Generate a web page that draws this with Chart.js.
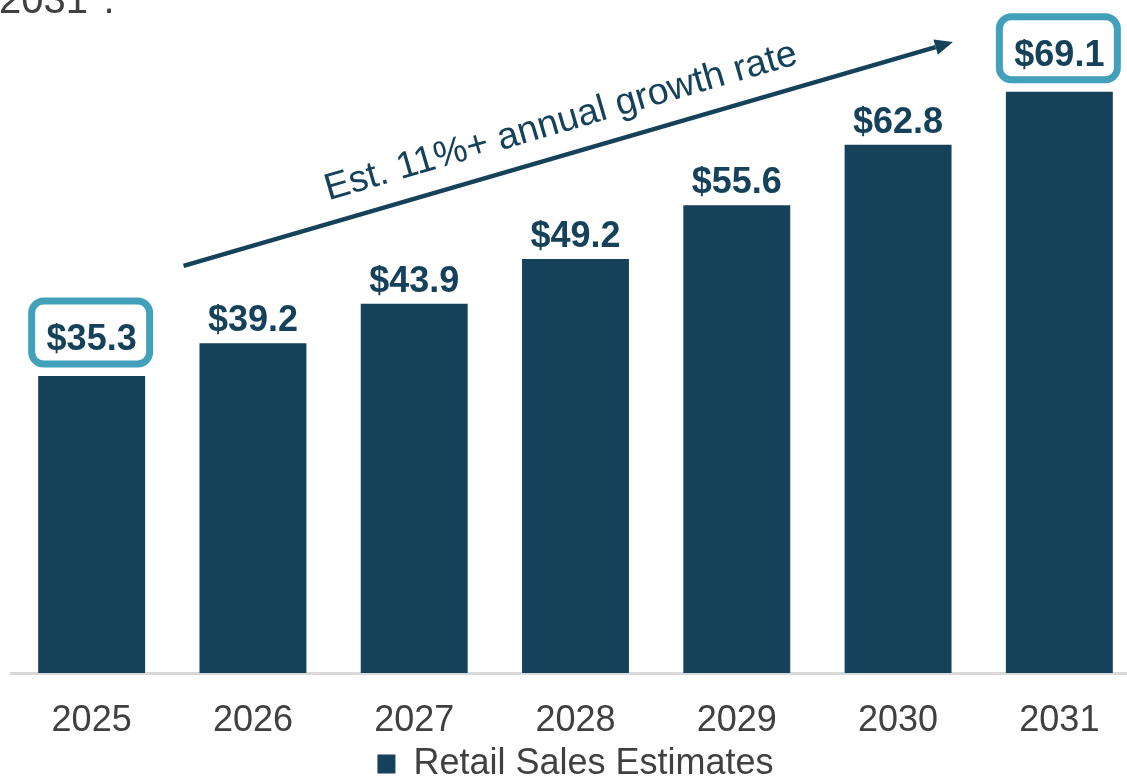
<!DOCTYPE html>
<html>
<head>
<meta charset="utf-8">
<title>Retail Sales Estimates</title>
<script src="https://cdn.jsdelivr.net/npm/chart.js@4/dist/chart.umd.min.js"></script>
<style>
  html, body { margin: 0; padding: 0; background: #fff; overflow: hidden; }
  #wrap { position: absolute; left: 0; top: 0; width: 1151px; height: 800px; }
</style>
</head>
<body>
<div id="wrap"><canvas id="myChart" width="1151" height="800"></canvas></div>
<script>
// values
const years = ['2025', '2026', '2027', '2028', '2029', '2030', '2031'];
const retailSales = [35.3, 39.2, 43.9, 49.2, 55.6, 62.8, 69.1];
const boxedYears = ['2025', '2031'];
const seriesName = 'Retail Sales Estimates';
const growthNote = 'Est. 11%+ annual growth rate';
const introTail = '2031*.';

const navy = '#15425A';
const teal = '#42A0BB';
const grey = '#404040';
const font = 'Arial, "Liberation Sans", sans-serif';

// value labels, boxes round first/last, growth arrow
const overlay = {
    id: 'overlay',
    afterDatasetsDraw(chart) {
        const ctx = chart.ctx;
        const meta = chart.getDatasetMeta(0);
        const x = chart.scales.x, y = chart.scales.y;
        ctx.save();

        // value over each bar
        ctx.font = 'bold 36px ' + font;
        ctx.fillStyle = navy;
        ctx.textAlign = 'center';
        ctx.textBaseline = 'alphabetic';
        meta.data.forEach(function (bar, i) {
            const boxed = boxedYears.indexOf(years[i]) >= 0;
            const base = bar.y - (boxed ? 26 : 12);
            ctx.fillText('$' + retailSales[i].toFixed(1), bar.x, base);
            if (boxed) {
                ctx.strokeStyle = teal;
                ctx.lineWidth = 7;
                ctx.beginPath();
                ctx.roundRect(bar.x - 60, base - 49, 118, 63, 12);
                ctx.stroke();
            }
        });

        // trend arrow
        const x0 = x.getPixelForValue(0.57), y0 = y.getPixelForValue(48.4);
        const x1 = x.getPixelForValue(5.34), y1 = y.getPixelForValue(75.0);
        const ang = Math.atan2(y1 - y0, x1 - x0);
        const head = 18, half = 8;
        const bx = x1 - head * Math.cos(ang), by = y1 - head * Math.sin(ang);
        ctx.strokeStyle = navy;
        ctx.fillStyle = navy;
        ctx.lineWidth = 4.5;
        ctx.beginPath();
        ctx.moveTo(x0, y0);
        ctx.lineTo(bx, by);
        ctx.stroke();
        ctx.beginPath();
        ctx.moveTo(x1, y1);
        ctx.lineTo(bx + half * Math.sin(ang), by - half * Math.cos(ang));
        ctx.lineTo(bx - half * Math.sin(ang), by + half * Math.cos(ang));
        ctx.closePath();
        ctx.fill();

        // note along the arrow
        const mx = (x0 + x1) / 2 + 23 * Math.sin(ang) + 2;
        const my = (y0 + y1) / 2 - 23 * Math.cos(ang);
        ctx.translate(mx, my);
        ctx.rotate(ang);
        ctx.font = '37.5px ' + font;
        ctx.textAlign = 'center';
        ctx.textBaseline = 'alphabetic';
        ctx.fillText(growthNote, 0, 0);
        ctx.restore();

        // tail of the paragraph above the chart
        ctx.save();
        ctx.font = '40px ' + font;
        ctx.fillStyle = grey;
        ctx.textAlign = 'left';
        ctx.textBaseline = 'alphabetic';
        ctx.fillText(introTail, -1, 13);
        ctx.restore();
    }
};

const data = {
    labels: years,
    datasets: [{
        label: seriesName,
        data: retailSales,
        backgroundColor: navy,
        borderWidth: 0,
        barPercentage: 0.663,
        categoryPercentage: 1
    }]
};

const config = {
    type: 'bar',
    data: data,
    options: {
        responsive: false,
        animation: false,
        layout: { padding: { left: 11, right: 11, top: 0, bottom: 8 } },
        scales: {
            x: {
                grid: { display: false, drawTicks: false },
                border: { display: true, color: '#D9D9D9', width: 3 },
                ticks: { color: grey, font: { size: 36, family: font }, padding: 26, maxRotation: 0, autoSkip: false },
                afterFit: function (scale) { scale.height = 63; }
            },
            y: {
                display: false,
                min: 0,
                max: 80
            }
        },
        plugins: {
            legend: {
                position: 'bottom',
                labels: {
                    color: grey,
                    font: { size: 36, family: font },
                    boxWidth: 18,
                    boxHeight: 19,
                    padding: 10
                }
            },
            tooltip: { enabled: false }
        }
    },
    plugins: [overlay]
};

const myChart = new Chart(document.getElementById('myChart'), config);
</script>
</body>
</html>
